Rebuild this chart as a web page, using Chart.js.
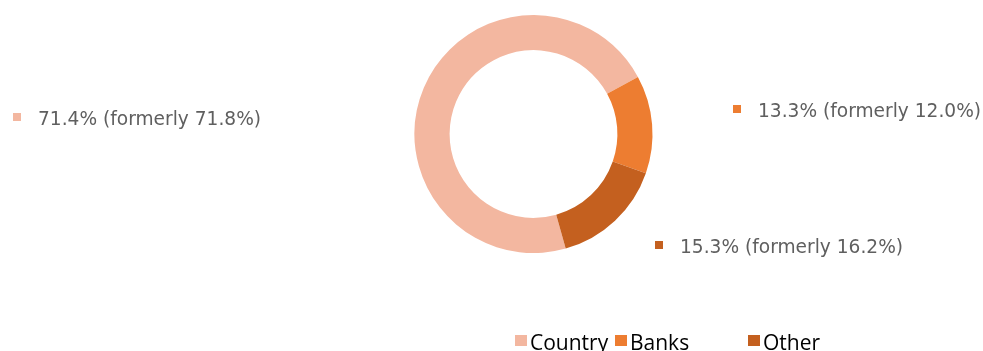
<!DOCTYPE html>
<html>
<head>
<meta charset="utf-8">
<script src="https://cdn.jsdelivr.net/npm/chart.js@4/dist/chart.umd.min.js"></script>
<style>
  html, body { margin: 0; padding: 0; background: #fff; }
  #wrap { width: 983px; height: 351px; position: relative; }
</style>
</head>
<body>
<div id="wrap"><canvas id="share-chart"></canvas></div>
<script>
const categories = ['Country', 'Banks', 'Other'];
const shares = [71.4, 13.3, 15.3];
const formerly = [71.8, 12.0, 16.2];
const colors = ['#F3B7A0', '#ED7D31', '#C4601F'];

// where each callout sits (marker left, text baseline)
const calloutPos = [
    { x: 13, y: 125 },
    { x: 733, y: 117 },
    { x: 655, y: 253 }
];
// bottom legend entries, spaced like the original
const legendPos = [515, 615, 748];

const fmt = (v) => v.toFixed(1) + '%';

const calloutPlugin = {
    id: 'callouts',
    afterDraw(chart) {
        const c = chart.ctx;
        c.save();
        c.textBaseline = 'alphabetic';
        c.font = '18.6px "DejaVu Sans"';
        categories.forEach((cat, i) => {
            const p = calloutPos[i];
            c.fillStyle = colors[i];
            c.fillRect(p.x, p.y - 12, 8, 8);
            c.fillStyle = '#5f5f5f';
            c.fillText(fmt(shares[i]) + ' (formerly ' + fmt(formerly[i]) + ')', p.x + 25, p.y);
        });

        // legend along the bottom
        c.font = '21px "Open Sans"';
        categories.forEach((cat, i) => {
            const x = legendPos[i];
            c.fillStyle = colors[i];
            c.fillRect(x, 335, 12, 11);
            c.fillStyle = '#000';
            c.fillText(cat, x + 15, 350);
        });
        c.restore();
    }
};

var ctx = document.getElementById('share-chart');

var chart = new Chart(ctx, {
    type: 'doughnut',
    data: {
        labels: categories,
        datasets: [{
            data: shares,
            backgroundColor: colors,
            borderWidth: 0
        }]
    },
    options: {
        responsive: true,
        maintainAspectRatio: false,
        animation: false,
        rotation: 164.3,
        cutout: '70.5%',
        layout: {
            padding: { left: 84, right: 0, top: 15, bottom: 98 }
        },
        plugins: {
            legend: { display: false },
            tooltip: { enabled: false }
        }
    },
    plugins: [calloutPlugin]
});
</script>
</body>
</html>
